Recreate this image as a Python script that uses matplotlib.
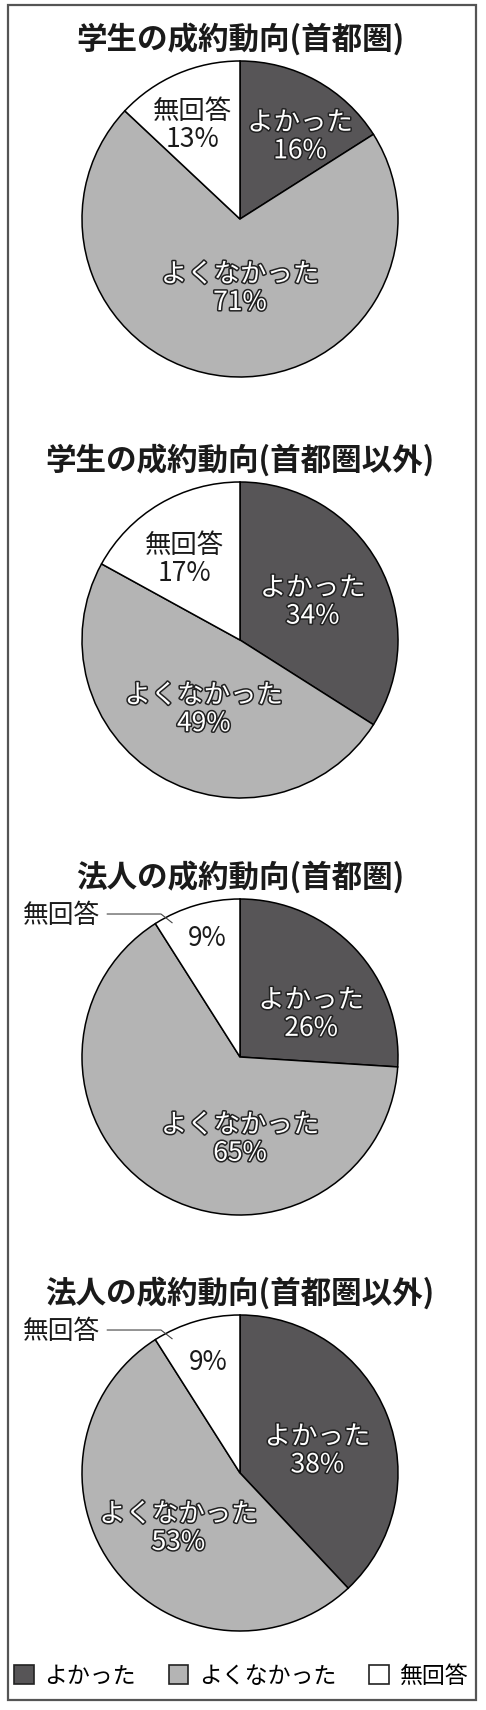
import matplotlib
matplotlib.use('Agg')
import matplotlib.pyplot as plt
import matplotlib.patheffects as pe
from matplotlib.patches import Patch, Rectangle

plt.rcParams['font.family'] = ['Noto Sans CJK JP', 'DejaVu Sans']

# data
categories = ['よかった', 'よくなかった', '無回答']
titles = ['学生の成約動向(首都圏)', '学生の成約動向(首都圏以外)',
          '法人の成約動向(首都圏)', '法人の成約動向(首都圏以外)']
values = [
    [16, 71, 13],
    [34, 49, 17],
    [26, 65, 9],
    [38, 53, 9],
]

colors = ['#575557', '#b4b4b4', '#ffffff']

# label placement (radius units, relative to pie centre)
label_pos = [
    [(0.38, 0.52), (0.0, -0.44), (-0.30, 0.59)],
    [(0.46, 0.24), (-0.23, -0.44), (-0.35, 0.51)],
    [(0.45, 0.27), (0.0, -0.52), (-0.21, 0.75)],
    [(0.49, 0.14), (-0.39, -0.35), (-0.20, 0.70)],
]
# small white slice gets an outside name with a leader line
outside_name = [False, False, True, True]

W, H = 486, 1710
R = 158  # pie radius in px
centers_y = [219, 640, 1057, 1473]
AX_H = 400

fig = plt.figure(figsize=(W / 100, H / 100), dpi=100)
fig.patch.set_facecolor('white')

for i in range(4):
    cy = centers_y[i]
    ax = fig.add_axes([0, (H - cy - AX_H / 2) / H, 1, AX_H / H])
    wedges, _ = ax.pie(values[i], colors=colors, startangle=90, counterclock=False,
                       radius=1.0, wedgeprops=dict(edgecolor='black', linewidth=1.1))
    ax.set_xlim(-240 / R, (W - 240) / R)
    ax.set_ylim(-AX_H / 2 / R, AX_H / 2 / R)
    ax.axis('off')

    ax.text(0, 1.14, titles[i], ha='center', va='center', fontsize=22,
            fontweight='bold', color='#1a1a1a')

    for j, cat in enumerate(categories):
        x, y = label_pos[i][j]
        pct = f'{values[i][j]}%'
        if j == 2:
            if outside_name[i]:
                txt = pct
            else:
                txt = cat + '\n' + pct
            ax.text(x, y, txt, ha='center', va='center', fontsize=19,
                    color='#1a1a1a', linespacing=1.05)
        else:
            ax.text(x, y, cat + '\n' + pct, ha='center', va='center', fontsize=19,
                    color='white', linespacing=1.05,
                    path_effects=[pe.withStroke(linewidth=2.2, foreground='#222222')])

    if outside_name[i]:
        ax.text(-1.13, 0.89, categories[2], ha='center', va='center', fontsize=18.5,
                color='#1a1a1a')
        ax.plot([-0.84, -0.50, -0.43], [0.905, 0.905, 0.85], color='#444444',
                linewidth=0.8)

# legend
handles = [Patch(facecolor=c, edgecolor='#222222', linewidth=1.2) for c in colors]
fig.legend(handles, categories, loc='center', bbox_to_anchor=(241 / W, 1 - 1676 / H),
           ncol=3, frameon=False, fontsize=16.5, handlelength=0.85, handleheight=0.85,
           handletextpad=0.45, columnspacing=1.45, borderpad=0)

# outer frame
fig.patches.append(Rectangle((8 / W, 1 - 1700 / H), 468 / W, 1695 / H,
                             transform=fig.transFigure, fill=False,
                             edgecolor='#555555', linewidth=1.6))

fig.savefig('out.png', dpi=100)
